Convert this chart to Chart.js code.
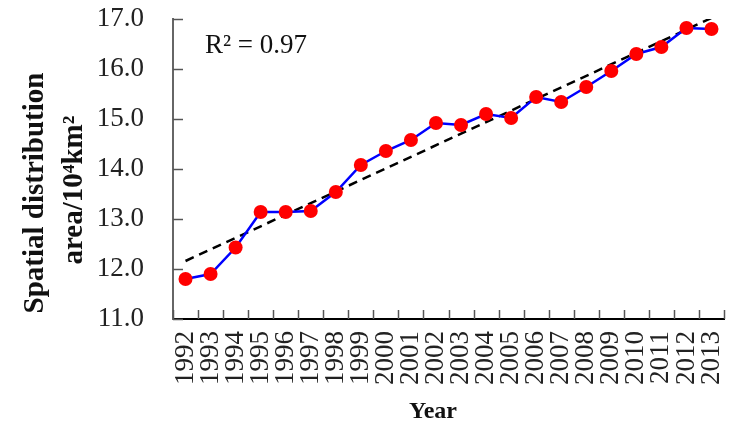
<!DOCTYPE html>
<html>
<head>
<meta charset="utf-8">
<script src="https://cdn.jsdelivr.net/npm/chart.js@4/dist/chart.umd.min.js"></script>
<style>
  html, body { margin: 0; padding: 0; background: #fff; }
  #area-chart { display: block; }
</style>
</head>
<body>
<canvas id="area-chart" width="731" height="423"></canvas>
<script>
var years = ['1992', '1993', '1994', '1995', '1996', '1997', '1998', '1999', '2000', '2001', '2002',
             '2003', '2004', '2005', '2006', '2007', '2008', '2009', '2010', '2011', '2012', '2013'];
var area_values = [11.80, 11.90, 12.43, 13.14, 13.14, 13.16, 13.54, 14.08, 14.36, 14.58, 14.92,
                   14.88, 15.10, 15.02, 15.44, 15.34, 15.64, 15.96, 16.30, 16.44, 16.82, 16.80];
// fitted line at both ends
var trend_years = ['1992', '2013'];
var trend_values = [12.16, 17.02];
var r2_text = 'R\u00b2 = 0.97';
var y_title = ['Spatial distribution', 'area/10\u2074km\u00b2'];
var x_title = 'Year';

var serif = "'Liberation Serif', 'DejaVu Serif', serif";

// tick marks drawn inside the plot area, plus axis titles and R2 label
var extras = {
    id: 'extras',
    afterDraw: function(chart) {
        var ctx = chart.ctx;
        var xs = chart.scales.x;
        var ys = chart.scales.y;
        var area = chart.chartArea;
        ctx.save();
        ctx.lineWidth = 1.5;
        ctx.strokeStyle = '#555';
        ys.ticks.forEach(function(t, i) {
            var y = Math.round(ys.getPixelForTick(i)) + 0.5;
            ctx.beginPath();
            ctx.moveTo(area.left, y);
            ctx.lineTo(area.left + 10, y);
            ctx.stroke();
        });
        for (var i = 0; i <= years.length; i++) {
            var x = Math.round(xs.getPixelForValue(i - 0.5)) + 0.5;
            ctx.beginPath();
            ctx.moveTo(x, area.bottom);
            ctx.lineTo(x, area.bottom - 9);
            ctx.stroke();
        }

        ctx.fillStyle = '#111';
        ctx.textBaseline = 'alphabetic';
        ctx.font = '27px ' + serif;
        ctx.textAlign = 'left';
        ctx.fillText(r2_text, 205, 53);

        ctx.font = 'bold 24px ' + serif;
        ctx.textAlign = 'center';
        ctx.fillText(x_title, 433, 418);

        ctx.font = 'bold 29px ' + serif;
        ctx.translate(43, 193);
        ctx.rotate(-Math.PI / 2);
        ctx.fillText(y_title[0], 0, 0);
        ctx.rotate(Math.PI / 2);
        ctx.translate(39, -3);
        ctx.rotate(-Math.PI / 2);
        ctx.fillText(y_title[1], 0, 0);
        ctx.restore();
    }
};

var area_chart = {
    type: 'line',
    data: {
        labels: years,
        datasets: [{
            data: area_values,
            borderColor: '#0000ff',
            borderWidth: 2.5,
            backgroundColor: '#ff0000',
            pointBackgroundColor: '#ff0000',
            pointBorderWidth: 0,
            pointRadius: 7,
            tension: 0,
            order: 1
        }, {
            data: trend_years.map(function(y, i) { return {x: y, y: trend_values[i]}; }),
            borderColor: '#000',
            borderWidth: 2.5,
            borderDash: [9, 6],
            pointRadius: 0,
            tension: 0,
            order: 2
        }]
    },
    options: {
        responsive: false,
        animation: false,
        devicePixelRatio: 1,
        layout: { padding: { left: 0, right: 4, top: 19, bottom: 0 } },
        plugins: {
            legend: { display: false },
            tooltip: { enabled: false }
        },
        scales: {
            x: {
                offset: true,
                grid: { display: true, drawOnChartArea: false, drawTicks: false, offset: true },
                border: { color: '#000', width: 2 },
                ticks: {
                    autoSkip: false,
                    minRotation: 90,
                    maxRotation: 90,
                    padding: 12,
                    color: '#222',
                    font: { family: serif, size: 27 }
                },
                afterFit: function(s) {
                    s.height = 104;
                    s.paddingLeft = 0;
                    s.paddingRight = 0;
                }
            },
            y: {
                min: 11,
                max: 17,
                grid: { display: true, drawOnChartArea: false, drawTicks: false },
                border: { color: '#666', width: 2 },
                ticks: {
                    stepSize: 1,
                    padding: 29,
                    color: '#222',
                    font: { family: serif, size: 27 },
                    callback: function(v) { return v.toFixed(1); }
                },
                afterFit: function(s) {
                    s.width = 173;
                    s.paddingTop = 0;
                    s.paddingBottom = 0;
                }
            }
        }
    },
    plugins: [extras]
};

window.onload = function() {
    var ctx = document.getElementById('area-chart').getContext('2d');
    window.areaChart = new Chart(ctx, area_chart);
};
</script>
</body>
</html>
